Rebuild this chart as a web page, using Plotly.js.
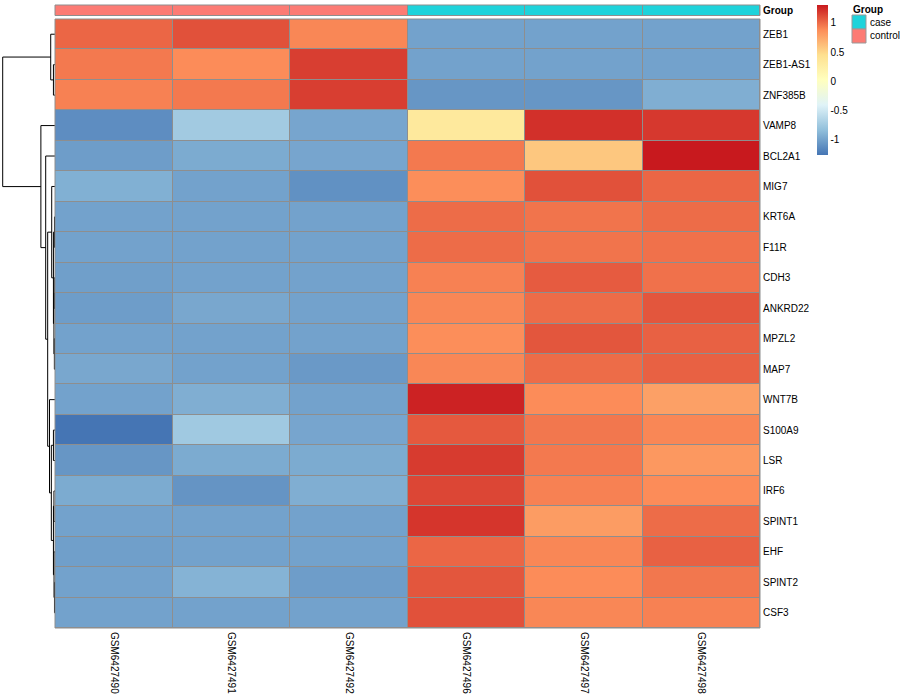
<!DOCTYPE html>
<html><head><meta charset="utf-8">
<script src="https://cdn.plot.ly/plotly-3.0.1.min.js"></script>
<style>html,body{margin:0;padding:0;background:#fff}#chart{width:900px;height:700px}</style>
</head><body><div id="chart"></div>
<script>
const genes = ['ZEB1','ZEB1-AS1','ZNF385B','VAMP8','BCL2A1','MIG7','KRT6A','F11R','CDH3','ANKRD22','MPZL2','MAP7','WNT7B','S100A9','LSR','IRF6','SPINT1','EHF','SPINT2','CSF3'];
const samples = ['GSM6427490','GSM6427491','GSM6427492','GSM6427496','GSM6427497','GSM6427498'];
const sampleGroup = ['control','control','control','case','case','case'];
const groupLevels = ['case','control'];
const groupColors = ['#1ED3DB','#FC7B74'];

// row-scaled expression (rows = genes, columns = samples)
const expr = [
 [ 1.02,  1.10,  0.90, -1.00, -1.00, -1.00],
 [ 0.95,  0.88,  1.17, -1.00, -1.00, -1.00],
 [ 0.92,  0.95,  1.17, -1.07, -1.07, -0.93],
 [-1.12, -0.74, -0.98,  0.33,  1.22,  1.19],
 [-1.03, -0.95, -0.98,  0.95,  0.58,  1.305],
 [-0.92, -1.00, -1.10,  0.87,  1.10,  1.02],
 [-1.00, -1.00, -1.00,  1.00,  0.97,  1.00],
 [-1.00, -1.00, -1.00,  1.00,  0.97,  0.98],
 [-1.02, -1.00, -1.00,  0.92,  1.06,  0.98],
 [-1.03, -0.97, -1.00,  0.90,  1.00,  1.08],
 [-1.00, -1.00, -1.00,  0.87,  1.08,  1.04],
 [-0.97, -1.00, -1.05,  0.90,  1.00,  1.04],
 [-1.00, -0.93, -1.00,  1.27,  0.88,  0.78],
 [-1.26, -0.75, -0.98,  1.07,  0.96,  0.90],
 [-1.07, -0.95, -0.95,  1.18,  0.95,  0.82],
 [-0.95, -1.08, -0.93,  1.14,  0.92,  0.88],
 [-1.00, -1.00, -1.00,  1.20,  0.80,  1.00],
 [-1.02, -1.00, -1.00,  1.02,  0.90,  1.04],
 [-1.00, -0.90, -1.03,  1.08,  0.88,  0.96],
 [-1.00, -1.00, -1.00,  1.10,  0.90,  0.92]
];

// row dendrogram (hclust-style merge: negative = leaf number, positive = earlier merge)
const mergeLeft   = [-2, -1, -7, -9, -11, 4, 3, -6, -14, -16, -19, -18, 10,  9, -13,  8, -5, -4,  2];
const mergeRight  = [-3,  1, -8, -10, -12, 5, 6,  7, -15, -17, -20,  11, 12, 13,  14, 15, 16, 17, 18];
const mergeHeight = [0.03, 0.082, 0.01, 0.015, 0.012, 0.02, 0.03, 0.063, 0.03, 0.02, 0.01, 0.018, 0.03, 0.07, 0.105, 0.14, 0.178, 0.27, 1.0];

const legendTicks = [-1, -0.5, 0, 0.5, 1];
const legendTickText = ['-1', '-0.5', '0', '0.5', '1'];
const palette = ['#4575B4','#91BFDB','#E0F3F8','#FFFFBF','#FEE090','#FC8D59','#C8191E'];

const W = 900, H = 700;
const px = v => v / W;
const py = v => 1 - v / H;
const FONT = 'Liberation Sans, Arial, Helvetica, sans-serif';

const flat = expr.flat();
const zmin = Math.min(...flat), zmax = Math.max(...flat);
const colorscale = palette.map((c, i) => [i / (palette.length - 1), c]);

// dendrogram coordinates
const nodeY = [], nodeH = [];
function pos(ref) {
  if (ref < 0) return { y: -ref - 1, h: 0 };
  return { y: nodeY[ref - 1], h: nodeH[ref - 1] };
}
const dx = [], dy = [];
for (let i = 0; i < mergeLeft.length; i++) {
  const a = pos(mergeLeft[i]), b = pos(mergeRight[i]);
  const h = mergeHeight[i];
  nodeY.push((a.y + b.y) / 2);
  nodeH.push(h);
  dx.push(a.h, h, h, b.h, null);
  dy.push(a.y, a.y, b.y, b.y, null);
}

const groupIdx = sampleGroup.map(g => groupLevels.indexOf(g));
const gscale = [[0, groupColors[0]], [0.5, groupColors[0]], [0.5, groupColors[1]], [1, groupColors[1]]];

const traces = [
  {
    type: 'heatmap', x: samples, y: genes, z: expr,
    zmin: zmin, zmax: zmax, colorscale: colorscale,
    xgap: 1, ygap: 1, hoverinfo: 'x+y+z',
    xaxis: 'x', yaxis: 'y',
    colorbar: {
      x: px(817), xanchor: 'left', y: py(5), yanchor: 'top',
      len: 150, lenmode: 'pixels', thickness: 11, thicknessmode: 'pixels',
      xpad: 0, ypad: 0, outlinewidth: 0, ticks: '', ticklen: 0, ticklabelstandoff: 2,
      tickvals: legendTicks, ticktext: legendTickText,
      tickfont: { family: FONT, size: 10, color: '#000' }
    }
  },
  {
    type: 'heatmap', x: samples, y: ['<b>Group</b>'], z: [groupIdx],
    zmin: 0, zmax: 1, colorscale: gscale, showscale: false,
    xgap: 1, ygap: 0, hoverinfo: 'x',
    xaxis: 'x2', yaxis: 'y2'
  },
  {
    type: 'scatter', mode: 'lines', x: dx, y: dy,
    line: { color: '#000', width: 1 }, hoverinfo: 'skip', showlegend: false,
    xaxis: 'x3', yaxis: 'y3'
  }
];

const hmX = [px(55), px(760)];
const hmY = [py(628), py(19)];
const layout = {
  width: W, height: H,
  margin: { l: 0, r: 0, t: 0, b: 0 },
  paper_bgcolor: '#fff', plot_bgcolor: '#fff',
  showlegend: false,
  font: { family: FONT, size: 10, color: '#000' },
  xaxis: {
    domain: hmX, anchor: 'y', type: 'category', range: [-0.5, 5.5],
    showgrid: false, zeroline: false, ticks: '', tickangle: 90, ticklabelstandoff: 3,
    tickfont: { family: FONT, size: 10, color: '#000' }, showline: false
  },
  yaxis: {
    domain: hmY, anchor: 'x', type: 'category', autorange: 'reversed',
    side: 'right', showgrid: false, zeroline: false, ticks: '', ticklabelstandoff: 2,
    tickfont: { family: FONT, size: 10, color: '#000' }
  },
  xaxis2: {
    domain: hmX, anchor: 'y2', type: 'category', range: [-0.5, 5.5],
    showticklabels: false, showgrid: false, zeroline: false, ticks: ''
  },
  yaxis2: {
    domain: [py(15.5), py(5)], anchor: 'x2', type: 'category', side: 'right',
    showgrid: false, zeroline: false, ticks: '', ticklabelstandoff: 2,
    tickfont: { family: FONT, size: 10, color: '#000' }
  },
  xaxis3: {
    domain: [0, px(55)], anchor: 'y3', range: [1 / ((55 - 2.7) / 55), 0],
    visible: false
  },
  yaxis3: {
    domain: hmY, anchor: 'x3', range: [genes.length - 0.5, -0.5], visible: false
  },
  shapes: [
    { type: 'rect', xref: 'x domain', yref: 'y domain', x0: 0, x1: 1, y0: 0, y1: 1,
      fillcolor: '#8E8E8E', line: { width: 0 }, layer: 'below' },
    { type: 'rect', xref: 'x domain', yref: 'y domain', x0: 0, x1: 1, y0: 0, y1: 1,
      fillcolor: 'rgba(0,0,0,0)', line: { color: '#8E8E8E', width: 1 }, layer: 'above' },
    { type: 'rect', xref: 'x2 domain', yref: 'y2 domain', x0: 0, x1: 1, y0: 0, y1: 1,
      fillcolor: '#8E8E8E', line: { width: 0 }, layer: 'below' },
    { type: 'rect', xref: 'x2 domain', yref: 'y2 domain', x0: 0, x1: 1, y0: 0, y1: 1,
      fillcolor: 'rgba(0,0,0,0)', line: { color: '#8E8E8E', width: 1 }, layer: 'above' }
  ],
  annotations: [
    { xref: 'paper', yref: 'paper', x: px(851), y: py(10), xanchor: 'left', yanchor: 'middle',
      text: '<b>Group</b>', showarrow: false, font: { family: FONT, size: 10, color: '#000' } }
  ]
};

// group legend boxes
groupLevels.forEach((g, i) => {
  const top = 15 + i * 14;
  layout.shapes.push({ type: 'rect', xref: 'paper', yref: 'paper',
    x0: px(852), x1: px(866), y0: py(top + 14), y1: py(top),
    fillcolor: groupColors[i], line: { color: '#999', width: 1 } });
  layout.annotations.push({ xref: 'paper', yref: 'paper', x: px(868), y: py(top + 7),
    xanchor: 'left', yanchor: 'middle', text: g, showarrow: false,
    font: { family: FONT, size: 10, color: '#000' } });
});

Plotly.newPlot('chart', traces, layout, { displayModeBar: false, staticPlot: true });
</script>
</body></html>
